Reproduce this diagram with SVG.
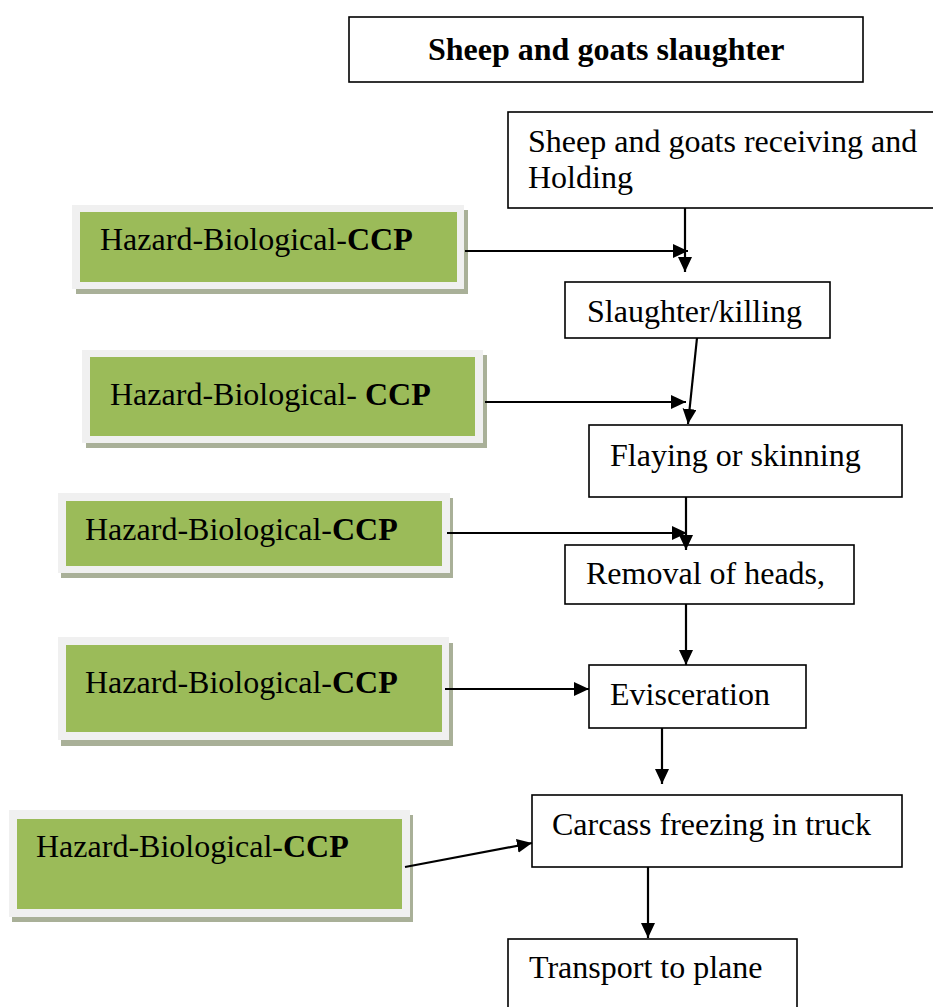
<svg xmlns="http://www.w3.org/2000/svg" width="933" height="1007" viewBox="0 0 933 1007">
<defs>
<style>
.box{fill:#ffffff;stroke:#000000;stroke-width:1.6}
.t{font-family:"Liberation Serif","Times New Roman",serif;font-size:32px;fill:#000000}
.b{font-weight:bold}
.shadow{fill:#a9b098}
.frame{fill:#f0f0f0}
.green{fill:#9bbb59}
.conn{stroke:#000000;stroke-width:2.2;fill:none;marker-end:url(#arr)}
</style>
<marker id="arr" markerUnits="userSpaceOnUse" markerWidth="16" markerHeight="15" refX="15" refY="7" orient="auto" viewBox="0 0 16 15">
<path d="M0,0 L15,7 L0,14 z" fill="#000000"/>
</marker>
</defs>
<rect width="933" height="1007" fill="#ffffff"/>

<g id="title">
<rect class="box" x="349" y="17" width="514" height="65"/>
<text class="t b" x="428" y="60">Sheep and goats slaughter</text>
</g>

<g id="receiving">
<rect class="box" x="508" y="112" width="440" height="96"/>
<text class="t" x="528" y="152">Sheep and goats receiving and</text>
<text class="t" x="528" y="188">Holding</text>
</g>

<g id="slaughter">
<rect class="box" x="565" y="282" width="265" height="56"/>
<text class="t" x="587" y="322">Slaughter/killing</text>
</g>

<g id="flaying">
<rect class="box" x="589" y="425" width="313" height="72"/>
<text class="t" x="610" y="466">Flaying or skinning</text>
</g>

<g id="removal">
<rect class="box" x="565" y="545" width="289" height="59"/>
<text class="t" x="586" y="584">Removal of heads,</text>
</g>

<g id="evisceration">
<rect class="box" x="589" y="665" width="217" height="63"/>
<text class="t" x="610" y="705">Evisceration</text>
</g>

<g id="carcass">
<rect class="box" x="532" y="795" width="370" height="72"/>
<text class="t" x="552" y="835">Carcass freezing in truck</text>
</g>

<g id="transport">
<rect class="box" x="508" y="939" width="289" height="80"/>
<text class="t" x="529" y="978">Transport to plane</text>
</g>

<g id="hazard1">
<rect class="shadow" x="76" y="210" width="392" height="84"/>
<rect class="frame" x="72" y="205" width="392" height="84"/>
<rect class="green" x="80" y="212" width="377" height="70"/>
<text class="t" x="100" y="250">Hazard-Biological-<tspan class="b">CCP</tspan></text>
</g>

<g id="hazard2">
<rect class="shadow" x="86" y="355" width="401" height="93"/>
<rect class="frame" x="82" y="350" width="401" height="93"/>
<rect class="green" x="90" y="357" width="385" height="79"/>
<text class="t" x="110" y="405">Hazard-Biological- <tspan class="b">CCP</tspan></text>
</g>

<g id="hazard3">
<rect class="shadow" x="61" y="498" width="392" height="80"/>
<rect class="frame" x="58" y="493" width="392" height="80"/>
<rect class="green" x="66" y="501" width="376" height="65"/>
<text class="t" x="85" y="540">Hazard-Biological-<tspan class="b">CCP</tspan></text>
</g>

<g id="hazard4">
<rect class="shadow" x="61" y="643" width="392" height="103"/>
<rect class="frame" x="58" y="637" width="391" height="103"/>
<rect class="green" x="66" y="645" width="376" height="87"/>
<text class="t" x="85" y="693">Hazard-Biological-<tspan class="b">CCP</tspan></text>
</g>

<g id="hazard5">
<rect class="shadow" x="12" y="815" width="401" height="107"/>
<rect class="frame" x="9" y="810" width="401" height="107"/>
<rect class="green" x="17" y="819" width="385" height="90"/>
<text class="t" x="36" y="857">Hazard-Biological-<tspan class="b">CCP</tspan></text>
</g>

<g id="connectors">
<line class="conn" x1="685" y1="208" x2="685" y2="272"/>
<line class="conn" x1="465" y1="251" x2="688" y2="251"/>
<line class="conn" x1="697" y1="338" x2="688" y2="424"/>
<line class="conn" x1="485" y1="402" x2="686" y2="402"/>
<line class="conn" x1="686" y1="497" x2="686" y2="550"/>
<line class="conn" x1="447" y1="533" x2="687" y2="533"/>
<line class="conn" x1="686" y1="604" x2="686" y2="665"/>
<line class="conn" x1="445" y1="689" x2="589" y2="689"/>
<line class="conn" x1="662" y1="728" x2="662" y2="784"/>
<line class="conn" x1="405" y1="867" x2="532" y2="843"/>
<line class="conn" x1="648" y1="867" x2="648" y2="938"/>
</g>
</svg>
